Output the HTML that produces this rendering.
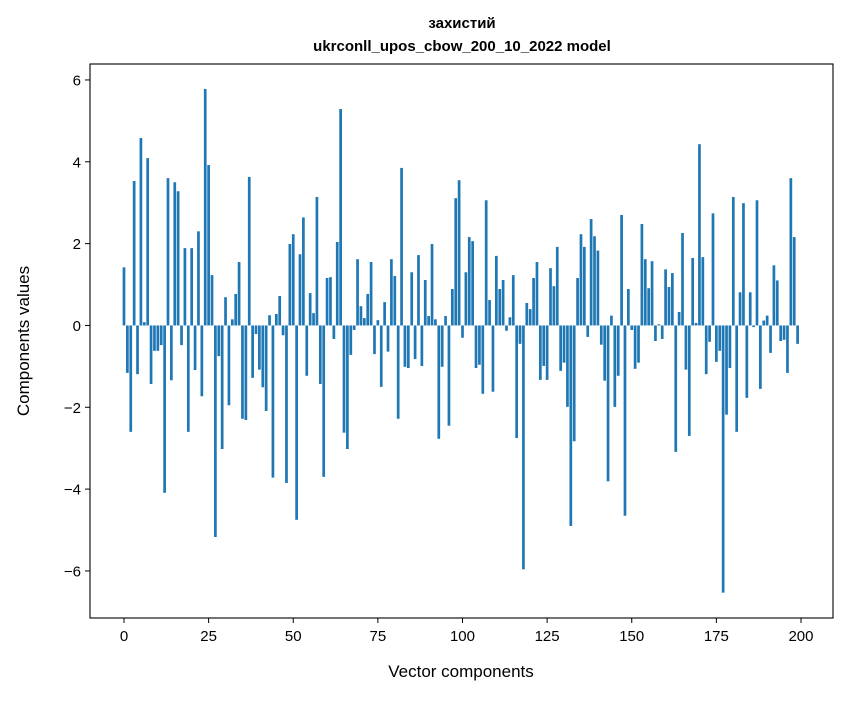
<!DOCTYPE html>
<html><head><meta charset="utf-8"><style>
body{margin:0;background:#fff}
svg text{font-family:"Liberation Sans","DejaVu Sans",sans-serif;fill:#000}
</style></head><body>
<svg id="chart" width="847" height="696" viewBox="0 0 847 696" xmlns="http://www.w3.org/2000/svg">
<rect x="0" y="0" width="847" height="696" fill="#fff"/>
<text x="462" y="28" text-anchor="middle" font-size="15" font-weight="bold">захистий</text>
<text x="462" y="51" text-anchor="middle" font-size="15" font-weight="bold">ukrconll_upos_cbow_200_10_2022 model</text>
<g id="bars"></g>
<g id="axes"></g>
<text x="461" y="677" text-anchor="middle" font-size="17">Vector components</text>
<text transform="translate(29,341) rotate(-90)" text-anchor="middle" font-size="17">Components values</text>
</svg>
<script>
const values = [1.42,-1.16,-2.6,3.53,-1.19,4.58,0.08,4.09,-1.43,-0.62,
-0.62,-0.48,-4.09,3.6,-1.34,3.5,3.28,-0.48,1.89,-2.6,
1.89,-1.09,2.3,-1.73,5.78,3.92,1.23,-5.17,-0.75,-3.02,
0.69,-1.95,0.15,0.77,1.55,-2.28,-2.31,3.63,-1.28,-0.21,
-1.08,-1.51,-2.09,0.25,-3.72,0.28,0.72,-0.24,-3.85,1.99,
2.23,-4.75,1.74,2.64,-1.23,0.79,0.3,3.14,-1.43,-3.7,
1.16,1.18,-0.33,2.04,5.29,-2.62,-3.02,-0.72,-0.11,1.62,
0.47,0.18,0.77,1.55,-0.7,0.13,-1.5,0.57,-0.64,1.62,
1.21,-2.28,3.85,-1.01,-1.04,1.3,-0.82,1.72,-0.99,1.11,
0.23,1.99,0.15,-2.77,-1.01,0.23,-2.45,0.89,3.11,3.55,
-0.3,1.3,2.16,2.06,-1.04,-0.96,-1.67,3.06,0.62,-1.62,
1.7,0.89,1.11,-0.13,0.2,1.23,-2.75,-0.45,-5.96,0.55,
0.4,1.16,1.55,-1.33,-0.99,-1.33,1.4,0.96,1.92,-1.11,
-0.91,-1.99,-4.9,-2.83,1.16,2.23,1.92,-0.28,2.6,2.18,
1.83,-0.47,-1.35,-3.81,0.24,-1.99,-1.23,2.7,-4.65,0.89,
-0.11,-1.06,-0.91,2.48,1.62,0.91,1.57,-0.38,0.03,-0.33,
1.37,0.94,1.28,-3.09,0.33,2.26,-1.08,-2.7,1.65,0.06,
4.43,1.67,-1.19,-0.4,2.74,-0.89,-0.62,-6.53,-2.18,-1.04,
3.14,-2.6,0.81,2.99,-1.77,0.81,-0.04,3.06,-1.55,0.12,
0.24,-0.67,1.47,1.1,-0.38,-0.35,-1.16,3.6,2.16,-0.45];
const xTicks = [0,25,50,75,100,125,150,175,200];
const yTicks = [-6,-4,-2,0,2,4,6];

const NS='http://www.w3.org/2000/svg';
const L=90,R=833,T=64,B=618;
const xmin=-10.04,xmax=(R-124)/3.385;
const ymax=6.39,ymin=-7.15;
const xs=v=>L+(v-xmin)/(xmax-xmin)*(R-L);
const ys=v=>T+(ymax-v)/(ymax-ymin)*(B-T);
const bars=document.getElementById('bars');
values.forEach((v,i)=>{
  const r=document.createElementNS(NS,'rect');
  const x0=xs(i-0.4),x1=xs(i+0.4);
  const y0=ys(Math.max(v,0)),y1=ys(Math.min(v,0));
  r.setAttribute('x',x0);r.setAttribute('width',x1-x0);
  r.setAttribute('y',y0);r.setAttribute('height',Math.max(y1-y0,0.3));
  r.setAttribute('fill','#1f77b4');
  
  
  bars.appendChild(r);
});
const ax=document.getElementById('axes');
const frame=document.createElementNS(NS,'rect');
frame.setAttribute('x',L);frame.setAttribute('y',T);
frame.setAttribute('width',R-L);frame.setAttribute('height',B-T);
frame.setAttribute('fill','none');frame.setAttribute('stroke','#000');frame.setAttribute('stroke-width','1.1');


ax.appendChild(frame);
xTicks.forEach(t=>{
  const x=xs(t);
  const l=document.createElementNS(NS,'line');
  l.setAttribute('x1',x);l.setAttribute('x2',x);l.setAttribute('y1',B);l.setAttribute('y2',B+5);
  l.setAttribute('stroke','#000');
  
  
  ax.appendChild(l);
  const tx=document.createElementNS(NS,'text');
  tx.setAttribute('x',x);tx.setAttribute('y',B+23);tx.setAttribute('text-anchor','middle');tx.setAttribute('font-size','15');
  tx.textContent=t;
  
  
  ax.appendChild(tx);
});
yTicks.forEach(t=>{
  const y=ys(t);
  const l=document.createElementNS(NS,'line');
  l.setAttribute('x1',L-5);l.setAttribute('x2',L);l.setAttribute('y1',y);l.setAttribute('y2',y);
  l.setAttribute('stroke','#000');
  
  
  ax.appendChild(l);
  const tx=document.createElementNS(NS,'text');
  tx.setAttribute('x',L-9);tx.setAttribute('y',y+5.5);tx.setAttribute('text-anchor','end');tx.setAttribute('font-size','15');
  tx.textContent=(t<0?'\u2212'+(-t):t);
  
  
  ax.appendChild(tx);
});
</script>
</body></html>
